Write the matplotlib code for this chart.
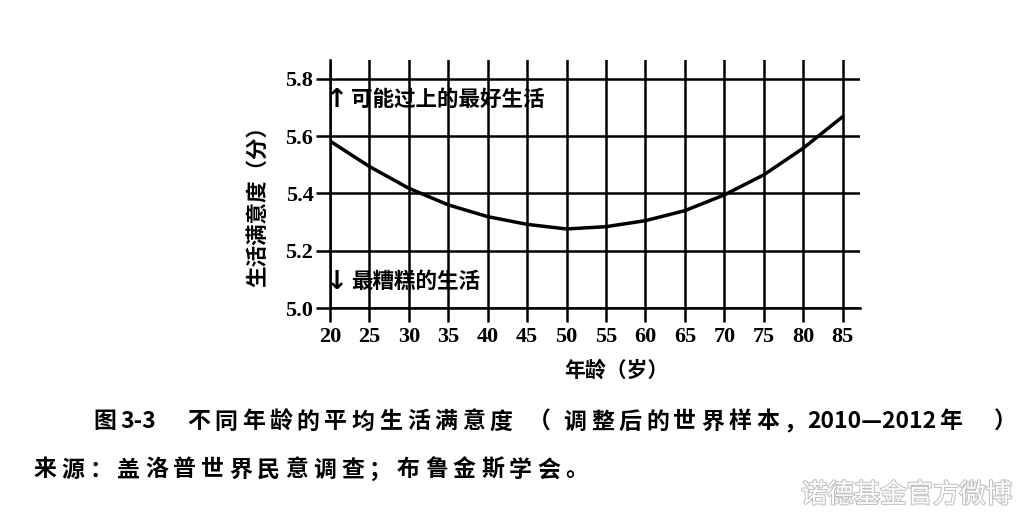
import matplotlib
matplotlib.use("Agg")
import matplotlib.pyplot as plt
import matplotlib.patheffects as pe

# data
ages = [20, 25, 30, 35, 40, 45, 50, 55, 60, 65, 70, 75, 80, 85]
satisfaction = [5.583, 5.494, 5.418, 5.360, 5.319, 5.292, 5.276, 5.284,
                5.305, 5.340, 5.395, 5.465, 5.558, 5.668]
x_ticks = [20, 25, 30, 35, 40, 45, 50, 55, 60, 65, 70, 75, 80, 85]
y_ticks = [5.0, 5.2, 5.4, 5.6, 5.8]

caption = "图3-3　不同年龄的平均生活满意度（调整后的世界样本，2010—2012年）"
source = "来源：盖洛普世界民意调查；布鲁金斯学会。"
watermark = "诺德基金官方微博"

CJK = ["Noto Sans CJK SC", "DejaVu Sans"]
NUM = ["Liberation Serif", "DejaVu Serif"]
W, H = 1024, 521

plt.rcParams["font.family"] = NUM

fig = plt.figure(figsize=(W / 100, H / 100), dpi=100)
ax = fig.add_axes([330 / W, 213 / H, 530 / W, 248 / H])

ax.plot(ages, satisfaction, color="black", lw=2.5, solid_capstyle="round", zorder=3)

ax.set_xlim(20, 87.2)
ax.set_ylim(5.0, 5.866)
ax.set_xticks(x_ticks)
ax.set_yticks(y_ticks)
ax.set_yticklabels([f"{v:.1f}" for v in y_ticks])
ax.grid(True, color="black", lw=1.8)
ax.set_axisbelow(True)
for side in ("top", "right"):
    ax.spines[side].set_visible(False)
for side in ("left", "bottom"):
    ax.spines[side].set_linewidth(1.8)
ax.tick_params(axis="both", length=10, width=1.8, labelsize=16, direction="out")
ax.tick_params(axis="x", pad=4)
ax.tick_params(axis="y", pad=2)
for lab in ax.get_xticklabels() + ax.get_yticklabels():
    lab.set_fontweight("bold")

ax.set_xlabel("年龄（岁）", family=CJK, fontsize=15, fontweight="bold")
ax.xaxis.set_label_coords(0.54, -0.25)
ax.xaxis.label.set_va("center")
ax.set_ylabel("生活满意度（分）", family=CJK, fontsize=15.5, fontweight="bold")
ax.yaxis.set_label_coords(-0.136, 0.43)
ax.yaxis.label.set_va("center")

# the two scale-end notes inside the grid
for yv, arrow, note in [(5.727, "↑", "可能过上的最好生活"), (5.091, "↓", "最糟糕的生活")]:
    ax.text(20.85, yv, arrow, family=["DejaVu Sans"], fontsize=19,
            fontweight="bold", va="center", ha="center")
    ax.text(22.7, yv, note, family=CJK, fontsize=15.5, fontweight="bold",
            va="center", ha="left")

# printed page puts extra room around some full-width punctuation
LEAD = {"（": 0.4, "）": 1.0}
ADVANCE = {"（": 1.3, "，": 0.85}


def spaced_text(x_px, y_px, s, pitch, **kw):
    """Lay out a line with wide CJK spacing like the printed page."""
    renderer = fig.canvas.get_renderer()
    x = x_px
    run = ""

    def flush(x, run):
        if not run:
            return x
        t = fig.text(x / W, 1 - y_px / H, run, ha="left", va="center", **kw)
        return x + t.get_window_extent(renderer).width + 3

    for ch in s:
        if ord(ch) < 0x2E80 and ch != "\u3000":
            run += ch
            continue
        x = flush(x, run)
        run = ""
        x += pitch * LEAD.get(ch, 0.0)
        fig.text(x / W, 1 - y_px / H, ch, ha="left", va="center", **kw)
        x += pitch * ADVANCE.get(ch, 1.0)
    flush(x, run)


spaced_text(93, 422, caption, 27.5, family=CJK, fontsize=16.5, fontweight="bold")
spaced_text(33, 470, source, 28.0, family=CJK, fontsize=16.5, fontweight="bold")

fig.text(1012 / W, 1 - 495 / H, watermark, family=CJK, fontsize=19,
         color="white", va="center", ha="right",
         path_effects=[pe.withStroke(linewidth=1.6, foreground="#c4c4c4")])

fig.savefig("out.png", dpi=100, facecolor="white")
